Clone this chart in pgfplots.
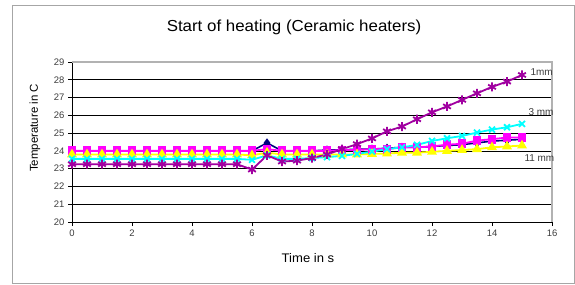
\documentclass[border=0pt]{standalone}
\usepackage{fontspec}
\setmainfont{Liberation Sans}
\usepackage{pgfplots}
\usepackage{pgfplotstable}
\pgfplotsset{compat=1.18}
\definecolor{cblue}{RGB}{0,0,128}
\definecolor{cmag}{RGB}{255,0,255}
\definecolor{cyel}{RGB}{255,255,0}
\definecolor{ccyan}{RGB}{0,255,255}
\definecolor{cpurp}{RGB}{160,0,160}
\definecolor{txtgray}{RGB}{60,60,60}
\pgfplotstableread{
t    b     m     y     c     p
0    24.0  24.0  23.8  23.55 23.25
0.5  24.0  24.0  23.8  23.55 23.25
1    24.0  24.0  23.8  23.55 23.25
1.5  24.0  24.0  23.8  23.55 23.25
2    24.0  24.0  23.8  23.55 23.25
2.5  24.0  24.0  23.8  23.55 23.25
3    24.0  24.0  23.8  23.55 23.25
3.5  24.0  24.0  23.8  23.55 23.25
4    24.0  24.0  23.8  23.55 23.25
4.5  24.0  24.0  23.8  23.55 23.25
5    24.0  24.0  23.8  23.55 23.25
5.5  24.0  24.0  23.8  23.55 23.25
6    24.0  24.0  23.75 23.5  22.95
6.5  24.45 24.1  23.9  23.75 23.75
7    24.0  24.0  23.8  23.55 23.4
7.5  24.0  24.0  23.8  23.55 23.45
8    24.0  24.0  23.8  23.6  23.6
8.5  24.05 24.0  23.8  23.65 23.8
9    24.05 24.05 23.8  23.72 24.1
9.5  24.1  24.05 23.8  23.83 24.38
10   24.1  24.1  23.83 23.96 24.7
10.5 24.15 24.1  23.85 24.1  25.1
11   24.2  24.2  23.9  24.2  25.37
11.5 24.2  24.2  23.9  24.34 25.78
12   24.25 24.25 23.95 24.56 26.17
12.5 24.3  24.35 24.0  24.71 26.5
13   24.35 24.4  24.05 24.84 26.87
13.5 24.45 24.58 24.1  25.03 27.24
14   24.55 24.66 24.2  25.2  27.6
14.5 24.6  24.75 24.25 25.33 27.9
15   24.65 24.75 24.3  25.52 28.27
}\datatable
\begin{document}
\begin{tikzpicture}[x=1bp,y=1bp]
\useasboundingbox (0,0) rectangle (575,284);
\draw[gray!70, line width=0.8bp] (12,1) rectangle (574.5,279);
\node[font=\fontsize{16}{18}\selectfont, xscale=1.06] at (294,257) {Start of heating (Ceramic heaters)};
\node[font=\fontsize{12.5}{14}\selectfont, xscale=1.05] at (308,26) {Time in s};
\node[font=\fontsize{11.5}{13}\selectfont, rotate=90] at (35,156) {Temperature in C};
\begin{axis}[
  at={(72bp,62bp)}, anchor=south west,
  scale only axis, width=480bp, height=160bp,
  xmin=0, xmax=16, ymin=20, ymax=29,
  xtick={0,2,...,16}, ytick={20,21,...,29},
  axis x line*=bottom, axis y line*=left,
  axis line style={-, black, line width=0.8bp},
  tick style={black, line width=0.6bp},
  tick align=outside, major tick length=4bp,
  ymajorgrids, grid style={black, line width=0.6bp},
  tick label style={font=\fontsize{9.5}{10}\selectfont, text=txtgray},
  /pgf/number format/assume math mode=true,
  clip=false,
]
\draw[gray!60, line width=1.6bp] (rel axis cs:0,1) -- (rel axis cs:1,1) -- (rel axis cs:1,0);
\addplot[cblue, line width=1.6bp, mark=diamond*, mark size=3.3bp] table[x=t,y=b] {\datatable};
\addplot[cmag, line width=1.8bp, mark=square*, mark size=3.5bp] table[x=t,y=m] {\datatable};
\addplot[cyel, line width=1.8bp, mark=triangle*, mark size=4bp] table[x=t,y=y] {\datatable};
\addplot[ccyan, line width=1.8bp, mark=x, mark size=4.2bp, mark options={line width=1.8bp}] table[x=t,y=c] {\datatable};
\addplot[cpurp, line width=1.8bp, mark=asterisk, mark size=4.5bp, mark options={line width=1.8bp}] table[x=t,y=p] {\datatable};
\end{axis}
\node[anchor=west, font=\fontsize{10}{12}\selectfont, text=txtgray] at (527,212) {1mm};
\node[anchor=west, font=\fontsize{10}{12}\selectfont, text=txtgray] at (525,172) {3 mm};
\node[anchor=west, font=\fontsize{10}{12}\selectfont, text=txtgray] at (521,126) {11 mm};
\end{tikzpicture}
\end{document}
